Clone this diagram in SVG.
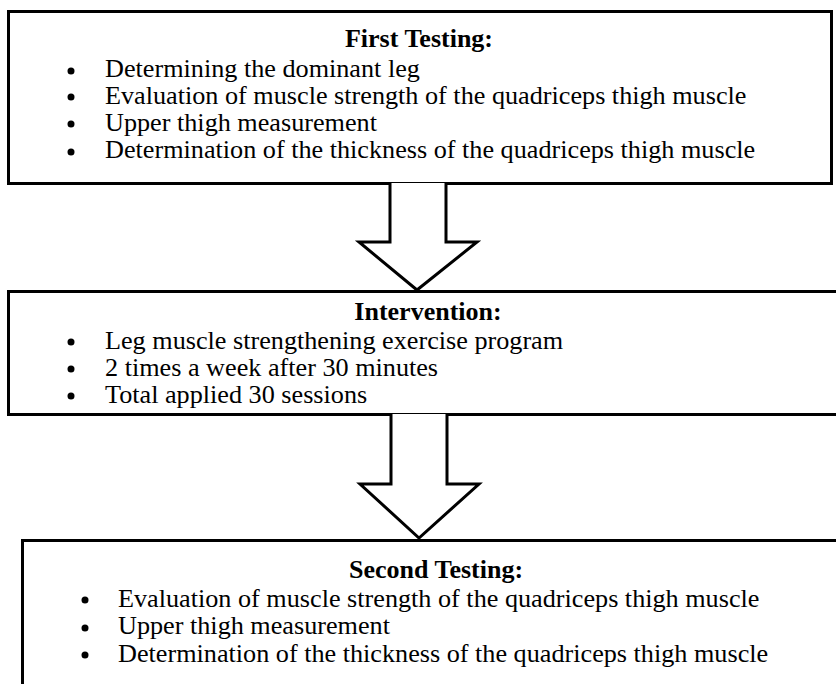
<svg xmlns="http://www.w3.org/2000/svg" width="836" height="684" viewBox="0 0 836 684">
<style>
.box{fill:#fff;stroke:#000;stroke-width:3}
.arrow{fill:#fff;stroke:#000;stroke-width:3;stroke-linejoin:miter}
.h{font-family:"Liberation Serif","Times New Roman",serif;font-weight:bold;font-size:26px;fill:#000;text-anchor:middle}
.t{font-family:"Liberation Serif","Times New Roman",serif;font-size:26.2px;fill:#000}
.b{fill:#000}
</style>
<rect width="836" height="684" fill="#fff"/>
<g id="first-testing">
<rect class="box" x="8.5" y="11.5" width="823" height="172"/>
<text class="h" x="419" y="47">First Testing:</text>
<circle class="b" cx="71" cy="71" r="3.5"/>
<text class="t" x="105" y="77">Determining the dominant leg</text>
<circle class="b" cx="71" cy="97" r="3.5"/>
<text class="t" x="105" y="104">Evaluation of muscle strength of the quadriceps thigh muscle</text>
<circle class="b" cx="71" cy="124" r="3.5"/>
<text class="t" x="105" y="131">Upper thigh measurement</text>
<circle class="b" cx="71" cy="152" r="3.5"/>
<text class="t" x="105" y="158">Determination of the thickness of the quadriceps thigh muscle</text>
</g>
<g id="intervention">
<rect class="box" x="8.5" y="291.5" width="840" height="123"/>
<text class="h" x="428" y="320">Intervention:</text>
<circle class="b" cx="71" cy="342" r="3.5"/>
<text class="t" x="105" y="349">Leg muscle strengthening exercise program</text>
<circle class="b" cx="71" cy="369" r="3.5"/>
<text class="t" x="105" y="376">2 times a week after 30 minutes</text>
<circle class="b" cx="71" cy="396" r="3.5"/>
<text class="t" x="105" y="403">Total applied 30 sessions</text>
</g>
<g id="second-testing">
<rect class="box" x="22.5" y="540.5" width="840" height="200"/>
<text class="h" x="436" y="578">Second Testing:</text>
<circle class="b" cx="85" cy="600" r="3.5"/>
<text class="t" x="118" y="607">Evaluation of muscle strength of the quadriceps thigh muscle</text>
<circle class="b" cx="85" cy="628" r="3.5"/>
<text class="t" x="118" y="634">Upper thigh measurement</text>
<circle class="b" cx="85" cy="655" r="3.5"/>
<text class="t" x="118" y="662">Determination of the thickness of the quadriceps thigh muscle</text>
</g>
<g id="connectors">
<path class="arrow" d="M390,183 L390,242 L359,242 L417,290 L477,242 L446,242 L446,183"/>
<path class="arrow" d="M391,414 L391,484 L360,484 L419,538 L479,484 L447,484 L447,414"/>
</g>
</svg>
